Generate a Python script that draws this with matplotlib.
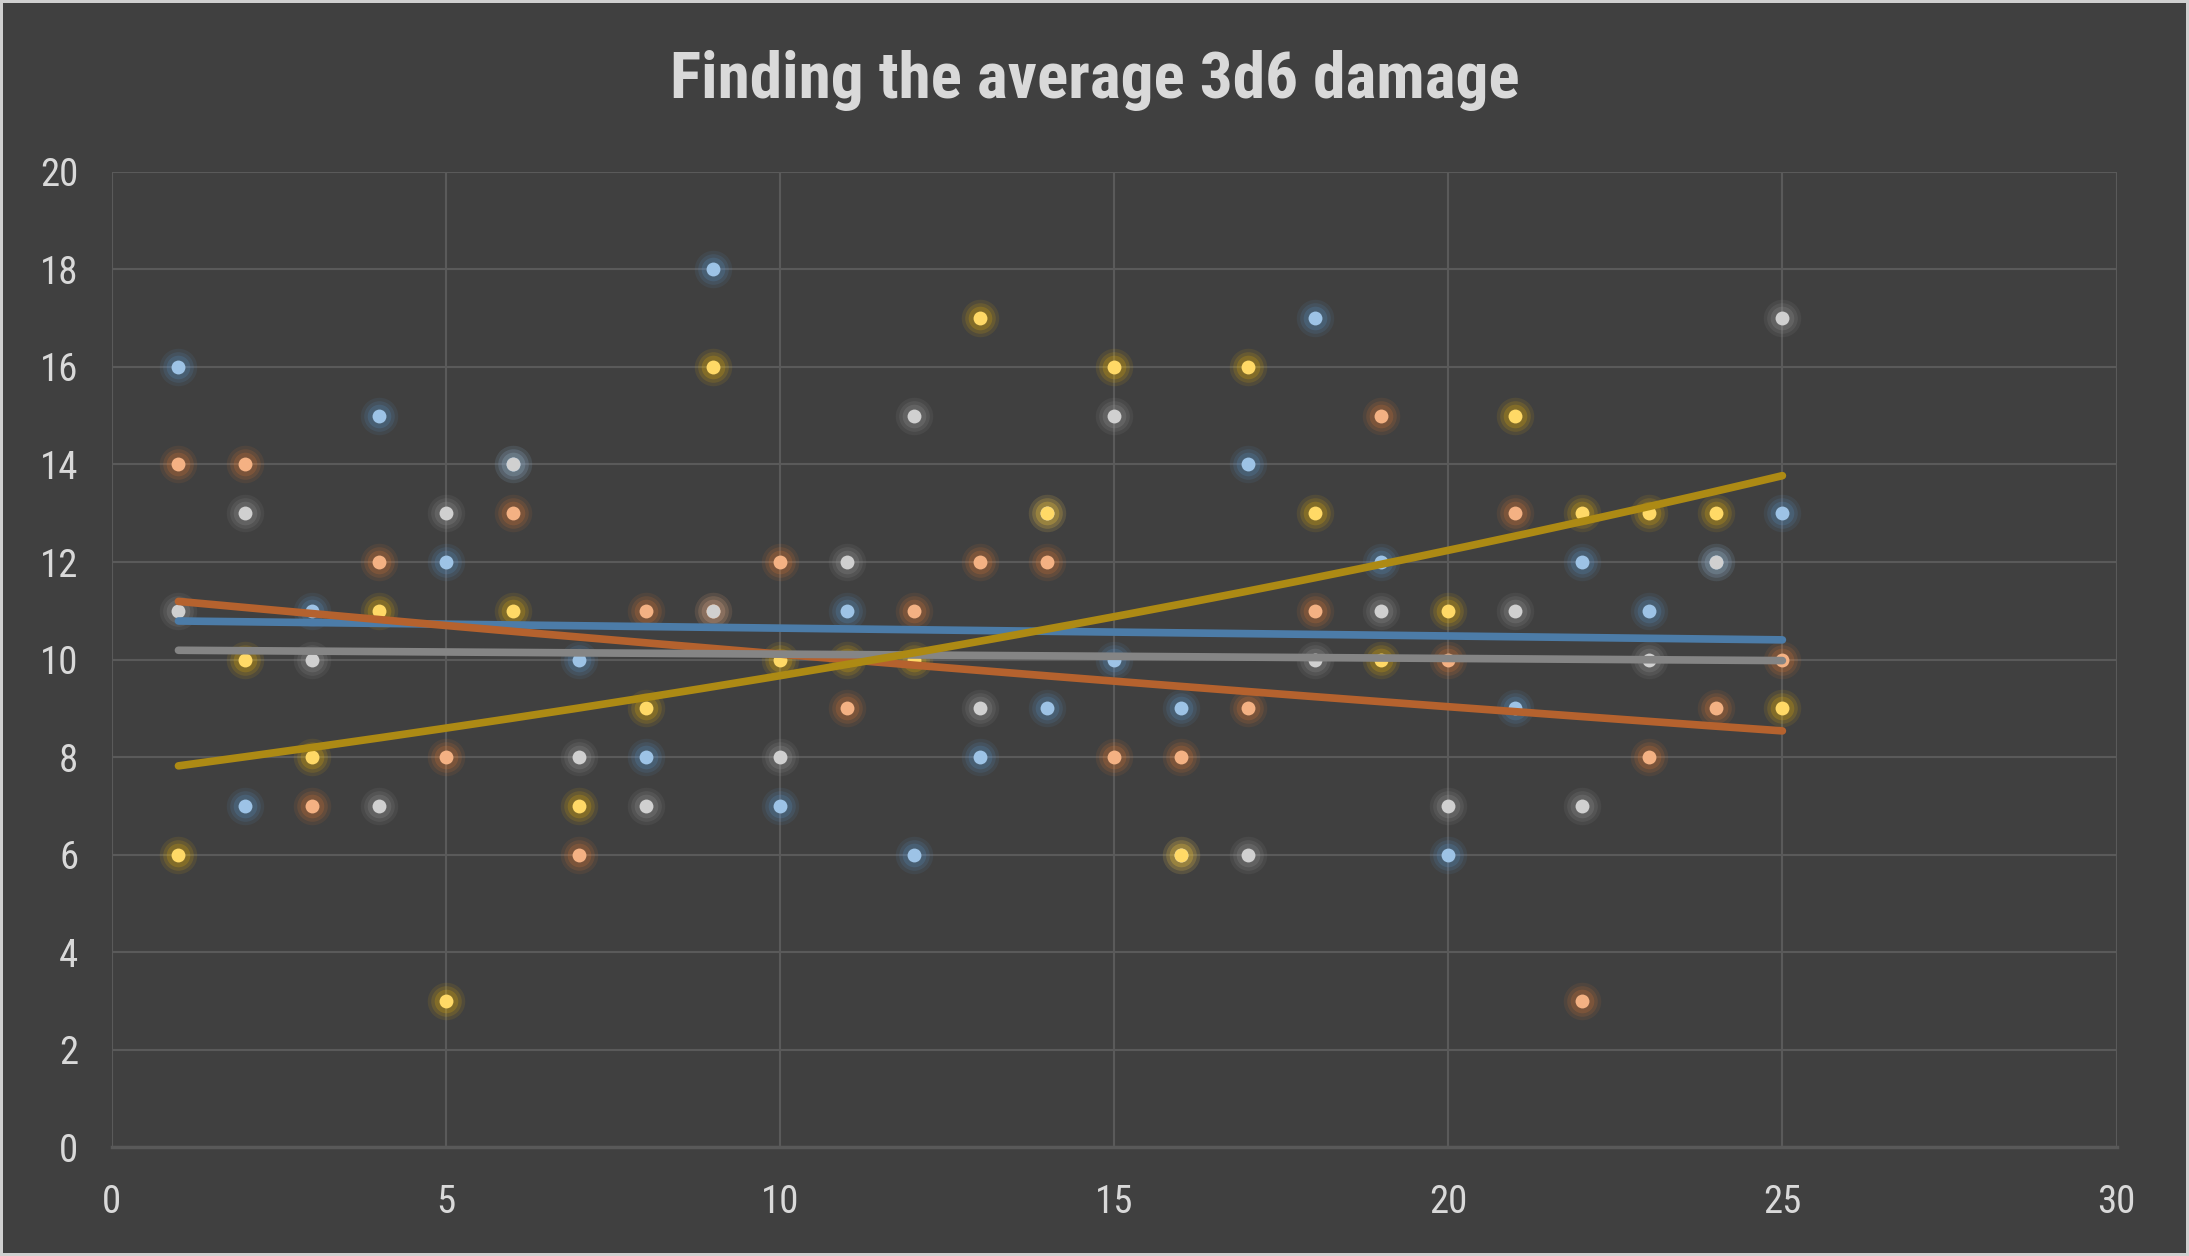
import numpy as np
import matplotlib
matplotlib.use("Agg")
import matplotlib.pyplot as plt

plt.rcParams['font.family'] = ['Roboto Condensed', 'Lato', 'DejaVu Sans']

# Rolls 1..25, one column per series
ROLLS = list(range(1, 26))
BLUE = [16, 7, 11, 15, 12, 14, 10, 8, 18, 7, 11, 6, 8, 9, 10, 9, 14, 17, 12, 6, 9, 12, 11, 12, 13]
ORANGE = [14, 14, 7, 12, 8, 13, 6, 11, 11, 12, 9, 11, 12, 12, 8, 8, 9, 11, 15, 10, 13, 3, 8, 9, 10]
GRAY = [11, 13, 10, 7, 13, 14, 8, 7, 11, 8, 12, 15, 9, 13, 15, 6, 6, 10, 11, 7, 11, 7, 10, 12, 17]
YELLOW = [6, 10, 8, 11, 3, 11, 7, 9, 16, 10, 10, 10, 17, 13, 16, 6, 16, 13, 10, 11, 15, 13, 13, 13, 9]

X_TICKS = [0, 5, 10, 15, 20, 25, 30]
Y_TICKS = [0, 2, 4, 6, 8, 10, 12, 14, 16, 18, 20]

# (values, marker colour, glow colour, trendline colour)
SERIES = [
    (BLUE, "#9DC3E6", "#5B9BD5", "#4C7CA8"),
    (ORANGE, "#F4B183", "#ED7D31", "#B5622E"),
    (GRAY, "#D0D0D0", "#A5A5A5", "#858585"),
    (YELLOW, "#FFD966", "#FFC000", "#AD8A14"),
]

BG = "#404040"
TXT = "#D9D9D9"

fig = plt.figure(figsize=(21.89, 12.56), dpi=100, facecolor=BG)
fig.patch.set_edgecolor("#D0D0D0")
fig.patch.set_linewidth(4)
ax = fig.add_axes([0.051, 0.0864, 0.9159, 0.7769])
ax.set_facecolor(BG)

x = np.array(ROLLS)
for vals, mcol, gcol, tcol in SERIES:
    y = np.array(vals)
    # soft glow under each point
    for s, a in [(27, 0.09), (22, 0.13), (17, 0.18)]:
        ax.plot(x, y, "o", ms=s, color=gcol, alpha=a, mec="none", zorder=2)
    ax.plot(x, y, "o", ms=10, color=mcol, mec="none", zorder=3)

# exponential trendlines, drawn over the points like Excel does
for vals, mcol, gcol, tcol in SERIES:
    y = np.array(vals)
    b, a = np.polyfit(x, np.log(y), 1)
    xs = np.linspace(x.min(), x.max(), 200)
    ax.plot(xs, np.exp(a + b * xs), color=tcol, lw=5.5, solid_capstyle="round", zorder=4)

ax.set_xlim(0, 30)
ax.set_ylim(0, 20)
ax.set_xticks(X_TICKS)
ax.set_yticks(Y_TICKS)
ax.grid(True, color="#5A5A5A", lw=1.5, zorder=0)
ax.set_axisbelow(True)
for side in ["left", "right", "top"]:
    ax.spines[side].set_visible(False)
ax.spines["bottom"].set_color("#595959")
ax.spines["bottom"].set_linewidth(2.5)
ax.tick_params(axis="both", length=0, labelsize=28, colors=TXT)
ax.tick_params(axis="y", pad=24)
ax.tick_params(axis="x", pad=26)

fig.text(0.5, 0.936, "Finding the average 3d6 damage", ha="center", va="center",
         fontsize=47, fontweight="bold", color=TXT)

fig.savefig("out.png", dpi=100, facecolor=BG, edgecolor=fig.patch.get_edgecolor())
